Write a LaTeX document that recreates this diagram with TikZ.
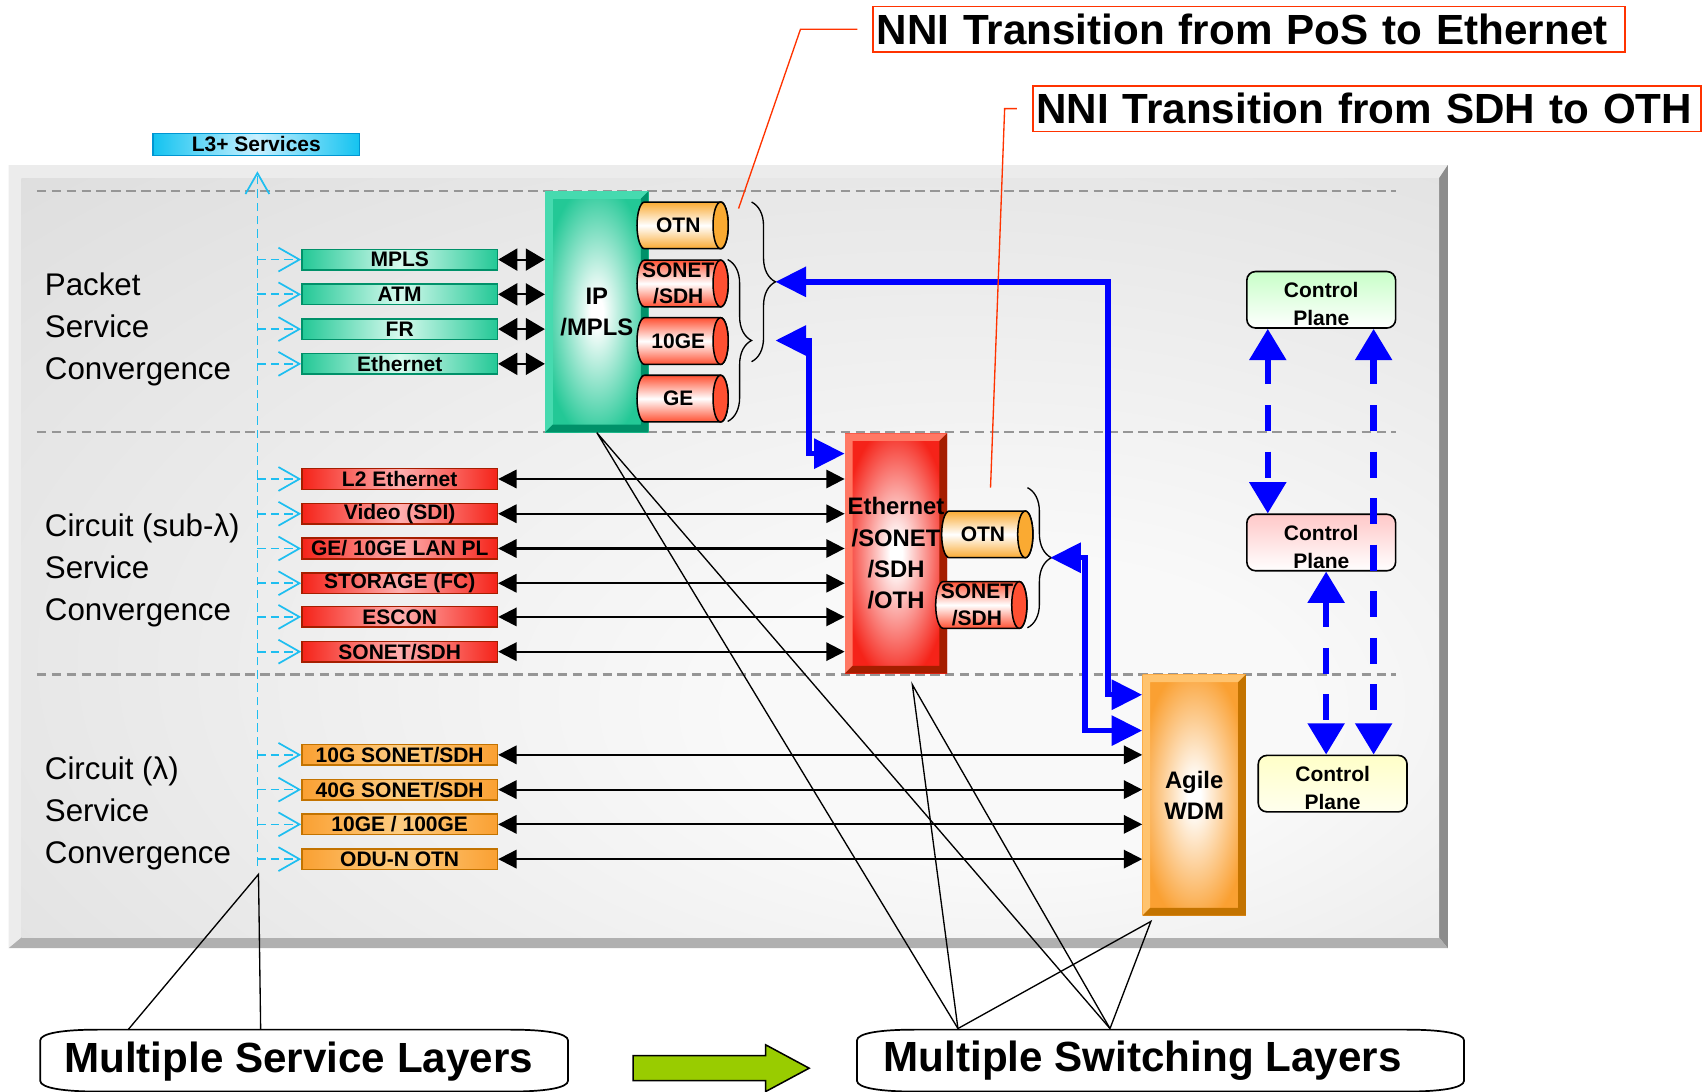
\documentclass[tikz,border=0pt]{standalone}
\usepackage{fontspec}
\setmainfont{Liberation Sans}
\usetikzlibrary{arrows.meta,decorations.pathreplacing}

\definecolor{panelface}{RGB}{220,220,220}
\definecolor{panelhi}{RGB}{249,249,249}
\definecolor{panellight}{RGB}{236,236,236}
\definecolor{paneldark}{RGB}{140,140,140}
\definecolor{panellow}{RGB}{176,176,176}
\definecolor{layergray}{RGB}{150,150,150}
\definecolor{cyanline}{RGB}{30,190,240}
\definecolor{cyanbox}{RGB}{20,195,240}
\definecolor{cyanpale}{RGB}{200,240,255}
\definecolor{cyandark}{RGB}{0,150,210}
\definecolor{tealc}{RGB}{35,200,150}
\definecolor{tealpale}{RGB}{215,250,238}
\definecolor{teallight}{RGB}{70,218,175}
\definecolor{tealdark}{RGB}{0,145,105}
\definecolor{redc}{RGB}{245,35,25}
\definecolor{redpale}{RGB}{255,175,175}
\definecolor{redlight}{RGB}{255,120,100}
\definecolor{reddark}{RGB}{165,30,0}
\definecolor{orangec}{RGB}{250,160,50}
\definecolor{orangepale}{RGB}{253,205,130}
\definecolor{orangelight}{RGB}{255,195,110}
\definecolor{orangedark}{RGB}{195,115,0}
\definecolor{tubered}{RGB}{255,80,50}
\definecolor{tubeorange}{RGB}{250,170,50}
\definecolor{cpgreen}{RGB}{200,255,200}
\definecolor{cppink}{RGB}{255,200,200}
\definecolor{cpyellow}{RGB}{255,255,200}
\definecolor{cpyellowlow}{RGB}{255,255,238}
\definecolor{nnired}{RGB}{255,51,0}
\definecolor{arrowgreen}{RGB}{153,204,0}

\pgfdeclareradialshading{glowteal}{\pgfpoint{0bp}{0bp}}{color(0bp)=(white); color(3bp)=(white); color(27bp)=(tealc); color(50bp)=(tealc)}
\pgfdeclareradialshading{glowred}{\pgfpoint{0bp}{0bp}}{color(0bp)=(white); color(3bp)=(white); color(27bp)=(redc); color(50bp)=(redc)}
\pgfdeclareradialshading{gloworange}{\pgfpoint{0bp}{0bp}}{color(0bp)=(white); color(3bp)=(white); color(27bp)=(orangec); color(50bp)=(orangec)}
\pgfdeclareradialshading{panelglow}{\pgfpoint{12bp}{-12bp}}{color(0bp)=(panelhi); color(10bp)=(panelhi); color(45bp)=(panelface); color(70bp)=(panelface)}

\tikzset{
    layerline/.style={draw=layergray, line width=1.1pt, dash pattern=on 5pt off 2.8pt},
    cyanlink/.style={draw=cyanline, line width=0.9pt, dash pattern=on 4.5pt off 2.5pt, -{Straight Barb[length=11pt,width=12.5pt]}},
    svc/.style={rectangle, minimum width=3.6cm, minimum height=0.38cm, inner sep=0, font=\bfseries\fontsize{11}{13}\selectfont},
    pktsvc/.style={svc, left color=tealc, right color=tealc, middle color=tealpale, draw=tealdark, line width=0.8pt},
    subsvc/.style={svc, left color=redc, right color=redc, middle color=redpale, draw=reddark, line width=0.8pt},
    lamsvc/.style={svc, left color=orangec, right color=orangec, middle color=orangepale, draw=orangedark, line width=0.8pt},
    l3box/.style={svc, minimum width=3.8cm, minimum height=0.4cm, left color=cyanbox, right color=cyanbox, middle color=cyanpale, draw=cyandark, line width=0.8pt},
    slab/.style n args={3}{rectangle, shade, shading=#1, minimum width=1.9cm, minimum height=4.44cm, inner sep=0, align=center,
        font=\bfseries\fontsize{12.5}{16.4}\selectfont,
        path picture={
            \fill[#2] (path picture bounding box.south west) -- (path picture bounding box.north west) -- (path picture bounding box.north east) -- ++(-7,-7) -- ([shift={(7,-7)}]path picture bounding box.north west) -- ([shift={(7,7)}]path picture bounding box.south west) -- cycle;
            \fill[#3] (path picture bounding box.south west) -- (path picture bounding box.south east) -- (path picture bounding box.north east) -- ++(-7,-7) -- ([shift={(-7,7)}]path picture bounding box.south east) -- ([shift={(7,7)}]path picture bounding box.south west) -- cycle;
        }},
    tubetext/.style={inner sep=0, align=center, font=\bfseries\fontsize{11}{14}\selectfont},
    curly/.style={decorate, decoration={brace, amplitude=0.44cm}, line width=0.7pt},
    dbl/.style={line width=1.1pt, arrows={Triangle[length=9.6pt,width=9.6pt]-Triangle[length=9.6pt,width=9.6pt]}},
    pktdbl/.style={line width=1.1pt, arrows={Triangle[length=10pt,width=11.5pt]-Triangle[length=10pt,width=11.5pt]}},
    bluelink/.style={draw=blue, line width=2.8pt, arrows={Triangle[length=16pt,width=15.3pt]-Triangle[length=16pt,width=15.3pt]}},
    ctrl/.style 2 args={rectangle, rounded corners=0.16cm, draw, line width=0.85pt, top color=#1, bottom color=#2, minimum width=2.74cm, minimum height=1.04cm, inner sep=0, font=\bfseries\fontsize{11}{14.7}\selectfont},
    ctrllink/.style={draw=blue, line width=3.4pt, dash pattern=on 13.6pt off 10.8pt, arrows={Triangle[length=16.4pt,width=18.7pt]-Triangle[length=16.4pt,width=18.7pt]}},
    layertitle/.style={anchor=west, align=left, inner sep=0, font=\fontsize{16.4}{22.1}\selectfont},
    nni/.style={draw=nnired, line width=0.85pt, inner xsep=0.06cm, minimum height=0.84cm, align=left, font=\bfseries\fontsize{22.1}{26}\selectfont},
    redlead/.style={draw=nnired, line width=0.7pt},
    leader/.style={draw=black, line width=0.7pt},
    scrollshape/.style={draw=black, line width=0.9pt, fill=white},
    calltext/.style={inner sep=0, font=\bfseries\fontsize{22.1}{26}\selectfont}
}

\newcommand{\tube}[4]{%
    \begin{scope}[shift={#2}]
        \shade[top color=#3, bottom color=#3, middle color=white, draw, line width=0.8pt] (35,21.5) -- (-35,21.5) arc[start angle=90, end angle=270, x radius=7, y radius=21.5] -- (35,-21.5) arc[start angle=-90, end angle=90, x radius=7, y radius=21.5] -- cycle;
        \filldraw[fill=#3, line width=0.8pt] (35,0) ellipse [x radius=7, y radius=21.5];
        \node[tubetext] (#1) at (-4,0) {#4};
    \end{scope}}

\newcommand{\cplabel}{\raisebox{-3.1pt}[\height][\depth]{\begin{tabular}{@{}c@{}}Control\\Plane\end{tabular}}}

\begin{document}
\begin{tikzpicture}[x=0.02cm, y=0.02cm]
    \useasboundingbox (0,0) rectangle (1568,-1005);
    \fill[panelface] (8,-152) rectangle (1333,-873);
    \fill[panellight] (8,-152) -- (1333,-152) -- (1325,-164) -- (20,-164) -- (20,-863) -- (8,-873) -- cycle;
    \fill[paneldark] (1333,-152) -- (1333,-873) -- (1325,-863) -- (1325,-164) -- cycle;
    \fill[panellow] (8,-873) -- (1333,-873) -- (1325,-863) -- (20,-863) -- cycle;
    \shade[shading=panelglow] (20,-164) rectangle (1325,-863);

    \draw[layerline] (34,-176) -- (1285,-176);
    \draw[layerline] (34,-398) -- (1285,-398);
    \draw[layerline] (34,-621) -- (1285,-621);

    \node[layertitle] (pkttitle) at (41,-303) {Packet\\Service\\Convergence};
    \node[layertitle] (subtitle) at (41,-525) {Circuit (sub-λ)\\Service\\Convergence};
    \node[layertitle] (lamtitle) at (41,-749) {Circuit (λ)\\Service\\Convergence};

    \node[l3box] (l3) at (236,-133) {L3+ Services};

    \node[pktsvc] (mpls) at (368,-239) {MPLS};
    \node[pktsvc] (atm) at (368,-271) {ATM};
    \node[pktsvc] (fr) at (368,-303) {FR};
    \node[pktsvc] (ethpkt) at (368,-335) {Ethernet};
    \node[subsvc] (l2eth) at (368,-441) {L2 Ethernet};
    \node[subsvc] (video) at (368,-473) {Video (SDI)};
    \node[subsvc] (gelan) at (368,-505) {GE/ 10GE LAN PL};
    \node[subsvc] (storage) at (368,-537) {STORAGE (FC)};
    \node[subsvc] (escon) at (368,-568) {ESCON};
    \node[subsvc] (sonetsvc) at (368,-600) {SONET/SDH};
    \node[lamsvc] (tengsdh) at (368,-695) {10G SONET/SDH};
    \node[lamsvc] (fortygsdh) at (368,-727) {40G SONET/SDH};
    \node[lamsvc] (hundredge) at (368,-759) {10GE / 100GE};
    \node[lamsvc] (odun) at (368,-791) {ODU-N OTN};

    \coordinate (trunkbot) at (237,-797);
    \draw[cyanlink] (trunkbot) -- ([shift={(1,-14)}]l3.south);
    \draw[cyanlink] (trunkbot |- mpls.west) -- (mpls.west);
    \draw[cyanlink] (trunkbot |- atm.west) -- (atm.west);
    \draw[cyanlink] (trunkbot |- fr.west) -- (fr.west);
    \draw[cyanlink] (trunkbot |- ethpkt.west) -- (ethpkt.west);
    \draw[cyanlink] (trunkbot |- l2eth.west) -- (l2eth.west);
    \draw[cyanlink] (trunkbot |- video.west) -- (video.west);
    \draw[cyanlink] (trunkbot |- gelan.west) -- (gelan.west);
    \draw[cyanlink] (trunkbot |- storage.west) -- (storage.west);
    \draw[cyanlink] (trunkbot |- escon.west) -- (escon.west);
    \draw[cyanlink] (trunkbot |- sonetsvc.west) -- (sonetsvc.west);
    \draw[cyanlink] (trunkbot |- tengsdh.west) -- (tengsdh.west);
    \draw[cyanlink] (trunkbot |- fortygsdh.west) -- (fortygsdh.west);
    \draw[cyanlink] (trunkbot |- hundredge.west) -- (hundredge.west);
    \draw[cyanlink] (trunkbot |- odun.west) -- (odun.west);

    \node[slab={glowteal}{teallight}{tealdark}] (ipmpls) at (549.5,-287) {IP\\/MPLS};
    \node[slab={glowred}{redlight}{reddark}, minimum width=1.88cm, minimum height=4.42cm] (ethsonet) at (825,-509.5) {Ethernet\\/SONET\\/SDH\\/OTH};
    \node[slab={gloworange}{orangelight}{orangedark}] (wdm) at (1099.5,-732) {Agile\\WDM};

    \tube{otnpkt}{(628.5,-207.5)}{tubeorange}{OTN}
    \tube{sonetpkt}{(628.5,-261)}{tubered}{SONET\\/SDH}
    \tube{tenge}{(628.5,-314)}{tubered}{10GE}
    \tube{ge}{(628.5,-367)}{tubered}{GE}
    \tube{otneth}{(909,-492)}{tubeorange}{OTN}
    \tube{soneteth}{(903.5,-557)}{tubered}{SONET\\/SDH}

    \draw[curly] (692,-186) -- (692,-333);
    \draw[curly] (670,-239) -- (670,-388);
    \draw[curly] (946,-449) -- (946,-578);
    \coordinate (pktin1) at (714,-259.5);
    \coordinate (pktin2) at (714,-313.5);
    \coordinate (ethin) at (967,-513.5);

    \draw[pktdbl] (mpls.east) -- (mpls.east -| ipmpls.west);
    \draw[pktdbl] (atm.east) -- (atm.east -| ipmpls.west);
    \draw[pktdbl] (fr.east) -- (fr.east -| ipmpls.west);
    \draw[pktdbl] (ethpkt.east) -- (ethpkt.east -| ipmpls.west);
    \draw[dbl] (l2eth.east) -- (l2eth.east -| ethsonet.west);
    \draw[dbl] (video.east) -- (video.east -| ethsonet.west);
    \draw[dbl] (gelan.east) -- (gelan.east -| ethsonet.west);
    \draw[dbl] (storage.east) -- (storage.east -| ethsonet.west);
    \draw[dbl] (escon.east) -- (escon.east -| ethsonet.west);
    \draw[dbl] (sonetsvc.east) -- (sonetsvc.east -| ethsonet.west);
    \draw[dbl] (tengsdh.east) -- (tengsdh.east -| wdm.west);
    \draw[dbl] (fortygsdh.east) -- (fortygsdh.east -| wdm.west);
    \draw[dbl] (hundredge.east) -- (hundredge.east -| wdm.west);
    \draw[dbl] (odun.east) -- (odun.east -| wdm.west);

    \draw[bluelink] (pktin1) -- (1020,-259.5) |- ([shift={(0,-19)}]wdm.north west);
    \draw[bluelink] (pktin2) -- (745,-313.5) |- ([shift={(0,-19)}]ethsonet.north west);
    \draw[bluelink] (ethin) -- (999,-513.5) |- ([shift={(0,-52)}]wdm.north west);

    \node[ctrl={cpgreen}{white}] (cptop) at (1216.5,-276) {\cplabel};
    \node[ctrl={cppink}{white}] (cpmid) at (1216.5,-499.5) {\cplabel};
    \node[ctrl={cpyellow}{cpyellowlow}] (cpbot) at (1227,-721.5) {\cplabel};
    \coordinate (cpa) at ([shift={(20,0)}]cptop.south west);
    \coordinate (cpb) at ([shift={(-21,0)}]cptop.south east);
    \coordinate (cpc) at ([shift={(4.5,0)}]cpmid.south);
    \draw[ctrllink] (cpa) -- (cpa |- cpmid.north);
    \draw[ctrllink] (cpb) -- (cpb |- cpbot.north);
    \draw[ctrllink] (cpc) -- (cpc |- cpbot.north);

    \node[nni, text width=13.72cm] (nnipos) at (1150,-27) {NNI Transition from PoS to Ethernet};
    \node[nni, text width=12.18cm] (nnisdh) at (1258.5,-100) {NNI Transition from SDH to OTH};
    \coordinate (posmark) at (680,-192);
    \coordinate (sdhmark) at (912,-449);
    \draw[redlead] ([shift={(-14,0)}]nnipos.west) -- (737,-27) -- (posmark);
    \draw[redlead] ([shift={(-14,0)}]nnisdh.west) -- (925,-100) -- (sdhmark);

    \draw[scrollshape] (37,-958) .. controls (37,-951) and (60,-948) .. (90,-948) -- (470,-948) .. controls (500,-948) and (523,-951) .. (523,-958) -- (523,-995) .. controls (523,-1002) and (500,-1005) .. (470,-1005) -- (90,-1005) .. controls (60,-1005) and (37,-1002) .. (37,-995) -- cycle;
    \draw[scrollshape] (789,-958) .. controls (789,-951) and (812,-948) .. (842,-948) -- (1295,-948) .. controls (1325,-948) and (1348,-951) .. (1348,-958) -- (1348,-995) .. controls (1348,-1002) and (1325,-1005) .. (1295,-1005) -- (842,-1005) .. controls (812,-1005) and (789,-1002) .. (789,-995) -- cycle;
    \node[calltext] (msl) at (275,-977) {Multiple Service Layers};
    \node[calltext] (mswl) at (1052,-977) {Multiple Switching Layers};

    \coordinate (mslA) at (118,-948);
    \coordinate (mslB) at (240,-948);
    \coordinate (svctail) at (238,-805);
    \draw[leader] (mslA) -- (svctail) -- (mslB);
    \coordinate (mswA) at (882,-947);
    \coordinate (mswB) at (1022,-947);
    \draw[leader] (mswA) -- (ipmpls.south) -- (mswB);
    \draw[leader] (mswA) -- ([shift={(15,-10)}]ethsonet.south) -- (mswB);
    \draw[leader] (mswA) -- ([shift={(8,-5)}]wdm.south west) -- (mswB);

    \filldraw[fill=arrowgreen, line width=0.8pt] (583,-972) -- (705,-972) -- (705,-962) -- (745,-983.5) -- (705,-1005) -- (705,-995) -- (583,-995) -- cycle;
\end{tikzpicture}
\end{document}
